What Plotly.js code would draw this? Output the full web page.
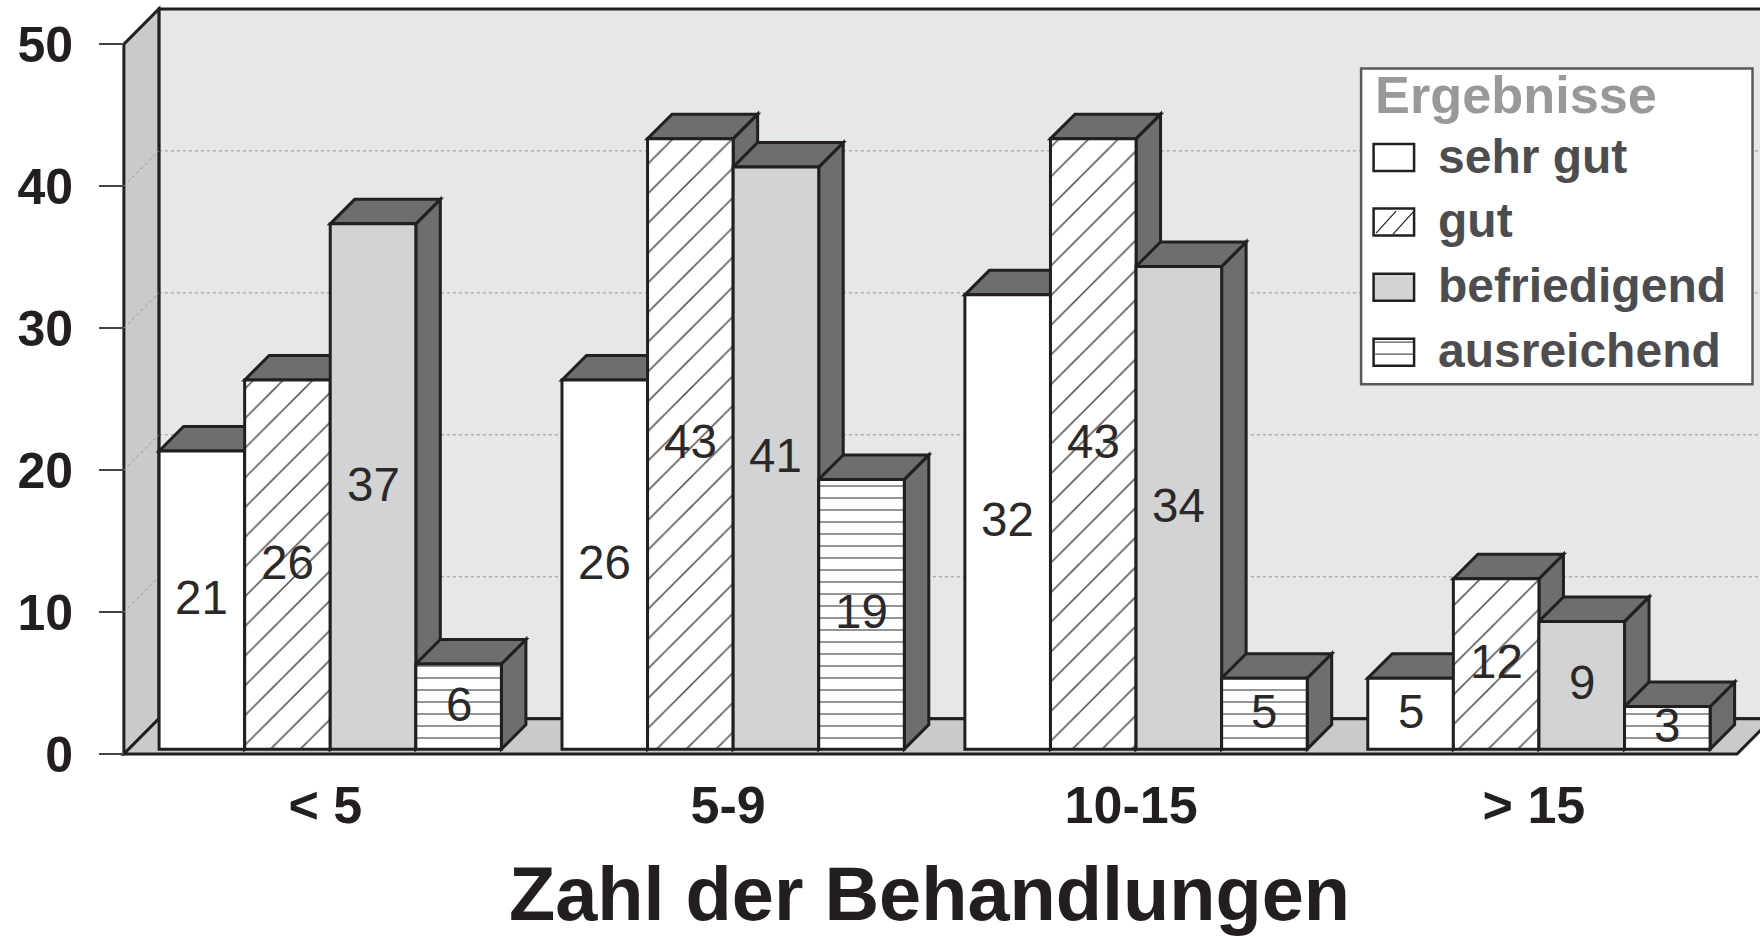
<!DOCTYPE html>
<html><head><meta charset="utf-8">
<script src="https://cdn.plot.ly/plotly-3.0.0.min.js"></script>
<style>html,body{margin:0;padding:0;background:#fff}#c{width:1760px;height:936px}</style>
</head><body><div id="c"></div>
<script>
const categories = ['< 5', '5-9', '10-15', '> 15'];
const seriesNames = ['sehr gut', 'gut', 'befriedigend', 'ausreichend'];
const sehrGut = [21, 26, 32, 5];
const gut = [26, 43, 43, 12];
const befriedigend = [37, 41, 34, 9];
const ausreichend = [6, 19, 5, 3];
const yTicks = [0, 10, 20, 30, 40, 50];
const legendTitle = 'Ergebnisse';
const xTitle = 'Zahl der Behandlungen';

const series = [sehrGut, gut, befriedigend, ausreichend];
const INK = '#231f20', WALL = '#c8cacc', BACK = '#e6e8e7', DARK = '#6d6e70', MID = '#d1d3d4';
const FONT = '"Liberation Sans", Arial, sans-serif';

// Pixel frame of the plot area
const W = 1760, H = 936, L = 98.6, BOTTOM = 755.6, TOP = 0;
const PXY = 14.19, PXX = 403.0, X0 = 329.9, Y0 = 753.6;
const xRange = [(L - X0) / PXX, (W - X0) / PXX];
const yRange = [(Y0 - BOTTOM) / PXY, (Y0 - TOP) / PXY];

// 3D frame in data units
const wallX = (123.5 - X0) / PXX, backDX = 35 / PXX, backDY = 2.48;
const floorRight = (1737 - X0) / PXX;
const barBase = 0.34, barW = 85.6 / PXX, groupW = 4 * barW;
const depthX = 24.5 / PXX, depthY = 24.5 / PXY;

const poly = pts => 'M' + pts.map(p => p[0] + ',' + p[1]).join('L') + 'Z';
const shapes = [];
const addPoly = (pts, fill, w) => shapes.push({type: 'path', layer: 'below', xref: 'x', yref: 'y', path: poly(pts),
  fillcolor: fill, line: {color: INK, width: w === undefined ? 3 : w}});

// back wall, left wall, floor
addPoly([[wallX + backDX, 50 + backDY], [xRange[1] + 1, 50 + backDY], [xRange[1] + 1, backDY], [wallX + backDX, backDY]], BACK);
yTicks.filter(v => v > 0 && v < 50).forEach(v => {
  shapes.push({type: 'line', layer: 'below', xref: 'x', yref: 'y', x0: wallX + backDX, x1: xRange[1], y0: v + backDY, y1: v + backDY,
    line: {color: '#8f9192', width: 1, dash: 'dot'}});
});
addPoly([[wallX, 0], [wallX + backDX, backDY], [wallX + backDX, 50 + backDY], [wallX, 50]], WALL);
yTicks.filter(v => v > 0 && v < 50).forEach(v => {
  shapes.push({type: 'line', layer: 'below', xref: 'x', yref: 'y', x0: wallX, x1: wallX + backDX, y0: v, y1: v + backDY,
    line: {color: '#97999b', width: 1, dash: 'dot'}});
});
addPoly([[wallX, 0], [wallX + backDX, backDY], [floorRight + backDX, backDY], [floorRight, 0]], WALL);

// top and side faces of each bar, from the values
const annotations = [];
categories.forEach((c, ci) => {
  series.forEach((vals, si) => {
    const l = ci - groupW / 2 + si * barW, r = l + barW, t = vals[ci] + barBase;
    addPoly([[r, barBase], [r + depthX, barBase + depthY], [r + depthX, t + depthY], [r, t]], DARK);
    addPoly([[l, t], [l + depthX, t + depthY], [r + depthX, t + depthY], [r, t]], DARK);
    annotations.push({xref: 'x', yref: 'y', x: l + barW / 2, y: barBase + vals[ci] / 2, yshift: 2.5, xanchor: 'center', yanchor: 'middle',
      showarrow: false, text: String(vals[ci]), font: {family: FONT, size: 47.5, color: '#2b2829'}});
  });
});

// Hand-placed legend box (pixel frame)
const px = x => (x - L) / (W - L);
const py = y => (BOTTOM - y) / (BOTTOM - TOP);
const box = (x0, y0, x1, y1, fill, color, w) => shapes.push({type: 'rect', layer: 'above', xref: 'paper', yref: 'paper',
  x0: px(x0), x1: px(x1), y0: py(y0), y1: py(y1), fillcolor: fill, line: {color: color, width: w}});
const seg = (x0, y0, x1, y1, color, w) => shapes.push({type: 'line', layer: 'above', xref: 'paper', yref: 'paper',
  x0: px(x0), x1: px(x1), y0: py(y0), y1: py(y1), line: {color: color, width: w}});
box(1361, 68.5, 1752.5, 384, '#fff', '#58595b', 2.5);
const rowY = [157.5, 222, 287, 352];
const swatchFill = ['#fff', '#fff', MID, '#fff'];
annotations.push({xref: 'paper', yref: 'paper', x: px(1373), y: py(95), xanchor: 'left', yanchor: 'middle', showarrow: false,
  text: legendTitle, font: {family: FONT, size: 52.3, weight: 700, color: '#98999b'}});
seriesNames.forEach((n, i) => {
  const yc = rowY[i];
  box(1373.5, yc - 13.5, 1414, yc + 13.5, swatchFill[i], INK, 2.5);
  if (i === 1) { seg(1376, yc + 11, 1396, yc - 11, INK, 1.2); seg(1393, yc + 12, 1413, yc - 10, INK, 1.2); }
  if (i === 3) { seg(1375, yc - 10, 1413, yc - 10, '#555', 1.2); seg(1375, yc + 2, 1413, yc + 2, '#555', 1.2); }
  annotations.push({xref: 'paper', yref: 'paper', x: px(1436), y: py(yc - 1.5), xanchor: 'left', yanchor: 'middle', showarrow: false,
    text: n, font: {family: FONT, size: 48, weight: 700, color: '#4d4d4f'}});
});

const markers = [
  {color: '#fff'},
  {color: '#fff', pattern: {shape: '/', size: 21, solidity: 0.075, fgcolor: '#555', bgcolor: '#fff', fillmode: 'replace'}},
  {color: MID},
  {color: '#fff', pattern: {shape: '-', size: 12, solidity: 0.13, fgcolor: '#777', bgcolor: '#fff', fillmode: 'replace'}}
];
const xIdx = categories.map((c, i) => i);
const traces = series.map((vals, i) => ({
  type: 'bar', name: seriesNames[i], x: xIdx, y: vals, base: barBase,
  marker: Object.assign({line: {color: INK, width: 3}}, markers[i]),
  hoverinfo: 'x+y+name'
}));

const layout = {
  width: W, height: H, margin: {l: L, r: 0, t: TOP, b: H - BOTTOM, pad: 0},
  paper_bgcolor: '#fff', plot_bgcolor: '#fff', showlegend: false,
  barmode: 'group', bargap: 1 - groupW, bargroupgap: 0,
  font: {family: FONT, color: INK},
  xaxis: {type: 'linear', range: xRange, tickmode: 'array', tickvals: xIdx, ticktext: categories, ticks: '',
    showgrid: false, zeroline: false, showline: false, ticklabelstandoff: 14, ticklabelshift: -5,
    tickfont: {family: FONT, size: 52, weight: 700, color: INK},
    title: {text: xTitle, standoff: 48, font: {family: FONT, size: 75.7, weight: 700, color: INK}}},
  yaxis: {range: yRange, tickmode: 'array', tickvals: yTicks, ticktext: yTicks.map(String), ticks: 'inside', ticklen: 25, tickwidth: 1.5, tickcolor: '#444',
    showgrid: false, zeroline: false, showline: false, ticklabelstandoff: 25,
    tickfont: {family: FONT, size: 50, weight: 700, color: INK}},
  shapes: shapes, annotations: annotations
};
Plotly.newPlot('c', traces, layout, {displayModeBar: false, responsive: false});
</script></body></html>
